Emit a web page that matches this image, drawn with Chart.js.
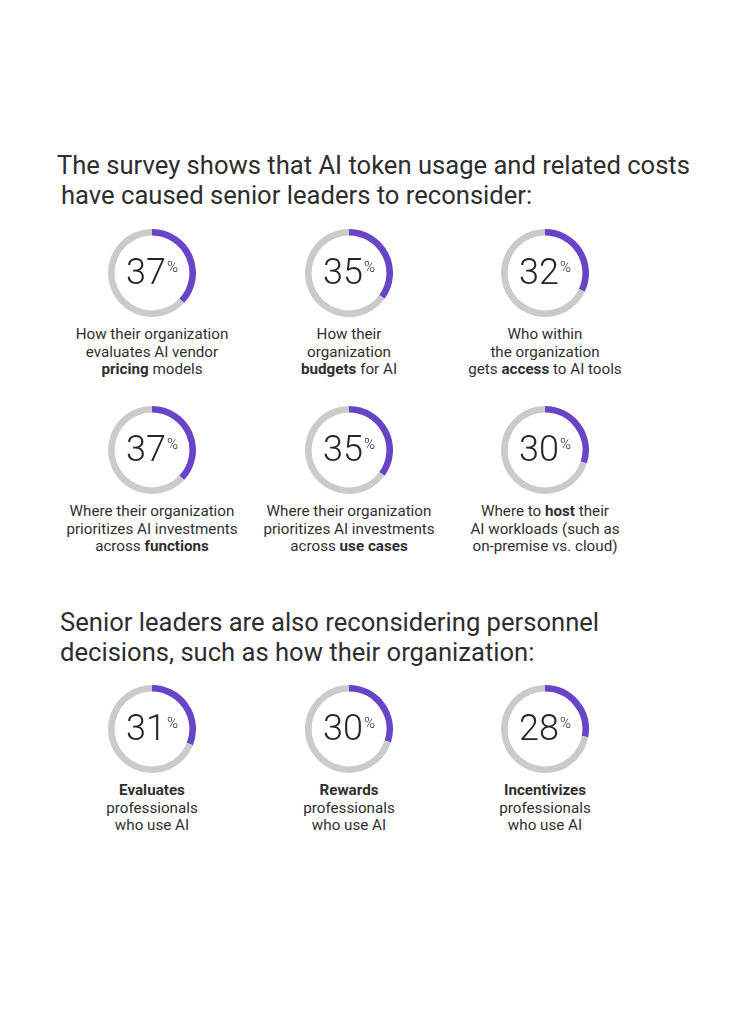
<!DOCTYPE html>
<html>
<head>
<meta charset="utf-8">
<script src="https://cdn.jsdelivr.net/npm/chart.js@4"></script>
<style>
  html, body { margin: 0; padding: 0; background: #fff; }
  body { width: 753px; height: 1024px; position: relative; overflow: hidden;
         font-family: Roboto, "Noto Sans", sans-serif; color: #333; }
  .heading { position: absolute; font-size: 25.6px; line-height: 30px; color: #2e2e2e; white-space: nowrap; }
  .cell { position: absolute; width: 220px; margin-left: -110px; text-align: center; }
  .ring { position: relative; width: 88px; height: 88px; margin: 0 auto; }
  .ring canvas { position: absolute; left: 0; top: 0; }
  .num { position: absolute; left: 0; right: 0; top: 23px; text-align: center;
         font-size: 36px; font-weight: 300; line-height: 40px; color: #262626; }
  .num sup { font-size: 15px; vertical-align: top; position: relative; top: -5px; margin-left: 1px; }
  .caption { margin-top: 9px; font-size: 15.2px; line-height: 17.6px; color: #2f2f2f; white-space: nowrap; }
  .caption b { font-weight: 700; }
</style>
</head>
<body>
<div class="heading" style="left:57px; top:150px;">The survey shows that AI token usage and related costs<br><span style="margin-left:4px">have caused senior leaders to reconsider:</span></div>
<div class="heading" style="left:60px; top:607px;">Senior leaders are also reconsidering personnel<br>decisions, such as how their organization:</div>
<div id="grid"></div>
<script>
// share of senior leaders reconsidering each item (%)
const percentValues = [37, 35, 32, 37, 35, 30, 31, 30, 28];

const captions = [
  ["How their organization", "evaluates AI vendor", "<b>pricing</b> models"],
  ["How their", "organization", "<b>budgets</b> for AI"],
  ["Who within", "the organization", "gets <b>access</b> to AI tools"],
  ["Where their organization", "prioritizes AI investments", "across <b>functions</b>"],
  ["Where their organization", "prioritizes AI investments", "across <b>use cases</b>"],
  ["Where to <b>host</b> their", "AI workloads (such as", "on-premise vs. cloud)"],
  ["<b>Evaluates</b>", "professionals", "who use AI"],
  ["<b>Rewards</b>", "professionals", "who use AI"],
  ["<b>Incentivizes</b>", "professionals", "who use AI"]
];

const purple = "#6a44c6";
const grey = "#cbcbcb";

// layout: column centres and ring tops
const colX = [152, 349, 545];
const rowTop = [229, 406, 685];

const grid = document.getElementById("grid");

percentValues.forEach((value, i) => {
  const cell = document.createElement("div");
  cell.className = "cell";
  cell.style.left = colX[i % 3] + "px";
  cell.style.top = rowTop[Math.floor(i / 3)] + "px";

  const ring = document.createElement("div");
  ring.className = "ring";
  const canvas = document.createElement("canvas");
  canvas.width = 88;
  canvas.height = 88;
  canvas.style.width = "88px";
  canvas.style.height = "88px";
  ring.appendChild(canvas);

  const num = document.createElement("div");
  num.className = "num";
  num.innerHTML = value + "<sup>%</sup>";
  ring.appendChild(num);
  cell.appendChild(ring);

  const cap = document.createElement("div");
  cap.className = "caption";
  cap.innerHTML = captions[i].join("<br>");
  cell.appendChild(cap);
  grid.appendChild(cell);

  new Chart(canvas, {
    type: "doughnut",
    data: {
      labels: ["Reconsidering", "Other"],
      datasets: [{
        data: [value, 100 - value],
        backgroundColor: [purple, grey],
        borderWidth: 0
      }]
    },
    options: {
      responsive: false,
      animation: false,
      events: [],
      cutout: "85%",
      layout: { padding: 0 },
      plugins: { legend: { display: false }, tooltip: { enabled: false } }
    }
  });
});
</script>
</body>
</html>
